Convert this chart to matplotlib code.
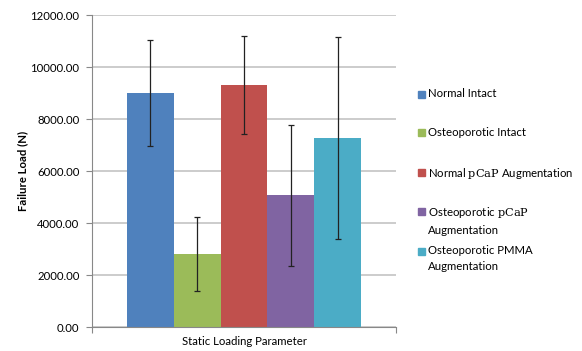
import numpy as np
import matplotlib
matplotlib.use('Agg')
import matplotlib.pyplot as plt
from matplotlib.patches import Rectangle

# dados
grupos = ['Normal Intact', 'Osteoporotic Intact', 'Normal $\\mathrm{pCaP}$ Augmentation',
          'Osteoporotic $\\mathrm{pCaP}$\nAugmentation', 'Osteoporotic PMMA\nAugmentation']
cargas = [9000, 2810, 9300, 5060, 7280]
erros = [2050, 1440, 1890, 2720, 3880]
cores = ['#4F81BD', '#9BBB59', '#C0504D', '#8064A2', '#4BACC6']
yticks = [0, 2000, 4000, 6000, 8000, 10000, 12000]

plt.rcParams['font.family'] = ['Lato', 'DejaVu Sans']
plt.rcParams['mathtext.fontset'] = 'dejavuserif'

W, H = 582, 351
fig = plt.figure(figsize=(W / 100, H / 100), dpi=100)
ax = fig.add_axes([92 / W, 1 - 327 / H, 304 / W, 312 / H])

x = np.arange(len(cargas))
for i in range(len(cargas)):
    ax.bar(x[i], cargas[i], width=1.0, color=cores[i], zorder=2)
ax.errorbar(x, cargas, yerr=erros, fmt='none', ecolor='#222222', elinewidth=0.9,
            capsize=2.2, capthick=0.9, zorder=3)

ax.set_xlim(-1.25, 5.25)
ax.set_ylim(0, 12000)
ax.set_yticks(yticks)
ax.set_yticklabels([f'{v:.2f}' for v in yticks], fontsize=8.2)
ax.yaxis.grid(True, color='#C4C4C4', linewidth=1.2, zorder=0)
ax.set_axisbelow(True)
ax.set_xticks([-1.25, 5.25])
ax.set_xticklabels([])
ax.tick_params(axis='y', length=4, color='#888888', pad=5)
ax.tick_params(axis='x', length=4, color='#888888')
for s in ['top', 'right']:
    ax.spines[s].set_visible(False)
for s in ['left', 'bottom']:
    ax.spines[s].set_color('#888888')

ax.set_ylabel('Failure Load (N)', fontsize=8.2, fontweight='bold', labelpad=2)
ax.set_xlabel('Static Loading Parameter', fontsize=8.2, labelpad=-1)

# legenda desenhada à mão, com o quadrado na primeira linha como no Excel
leg_y = [94, 133, 172, 211, 251]
for lab, cor, yy in zip(grupos, cores, leg_y):
    fig.patches.append(Rectangle((418 / W, 1 - (yy + 3.5) / H), 7 / W, 7 / H,
                                 transform=fig.transFigure, color=cor))
    fig.text(428 / W, 1 - (yy - 6) / H, lab, fontsize=8.2, va='top', ha='left',
             linespacing=1.55)

fig.savefig('out.png', dpi=100)
